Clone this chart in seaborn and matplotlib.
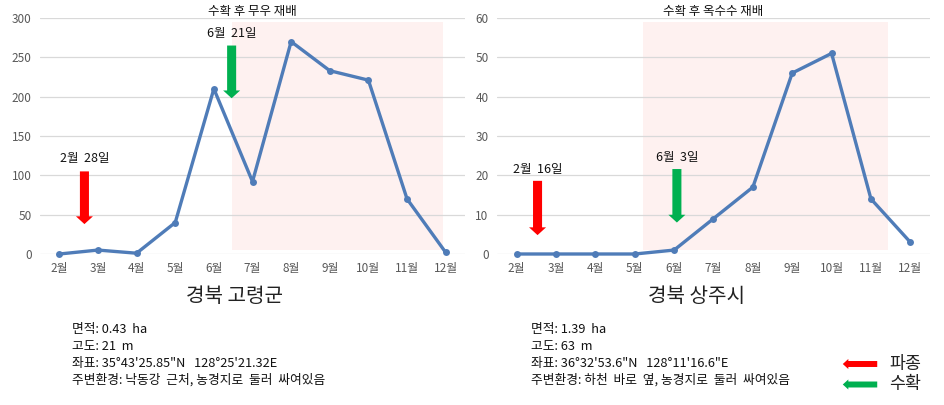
import matplotlib
matplotlib.use("Agg")
import matplotlib.pyplot as plt
from matplotlib.patches import FancyArrowPatch
import seaborn as sns
import pandas as pd

sns.set_theme(style="white")
plt.rcParams['font.family'] = ['Noto Sans CJK KR', 'DejaVu Sans']

months = ["2월", "3월", "4월", "5월", "6월", "7월", "8월", "9월", "10월", "11월", "12월"]
goryeong_values = [0, 5, 1, 40, 210, 92, 270, 233, 221, 70, 2]
sangju_values = [0, 0, 0, 0, 1, 9, 17, 46, 51, 14, 3]

left_title = "수확 후 무우 재배"
right_title = "수확 후 옥수수 재배"
left_region = "경북 고령군"
right_region = "경북 상주시"
left_info = ["면적: 0.43  ha", "고도: 21  m", "좌표: 35°43'25.85\"N   128°25'21.32E",
             "주변환경: 낙동강  근처, 농경지로  둘러  싸여있음"]
right_info = ["면적: 1.39  ha", "고도: 63  m", "좌표: 36°32'53.6\"N   128°11'16.6\"E",
              "주변환경: 하천  바로  옆, 농경지로  둘러  싸여있음"]
left_sow_label, left_harvest_label = "2월  28일", "6월  21일"
right_sow_label, right_harvest_label = "2월  16일", "6월  3일"
legend_labels = ["파종", "수확"]

LINE = "#4f7cb8"
RED = "#ff0000"
GREEN = "#00b050"
SHADE = "#fef1f0"
TICK = "#595959"
ARROWSTYLE = "simple,tail_width=0.93,head_width=1.75,head_length=0.8"
LEG_ARROWSTYLE = "simple,tail_width=0.86,head_width=1.45,head_length=0.8"

W, H = 944, 405
fig = plt.figure(figsize=(W / 100, H / 100), dpi=100)


def fx(px):
    return px / W


def fy(py):
    return 1 - py / H


def panel(ax, values, ymax, ystep, shade_x, title):
    df = pd.DataFrame({"month": months, "value": values})
    ax.axvspan(shade_x[0], shade_x[1], ymin=0.015, ymax=0.985,
               color=SHADE, zorder=0, lw=0)
    sns.lineplot(data=df, x="month", y="value", ax=ax, color=LINE, lw=2.4,
                 marker="o", markersize=5, markeredgewidth=0, sort=False, zorder=3,
                 clip_on=False)
    ax.set_xlim(-0.5, 10.5)
    ax.set_ylim(0, ymax)
    ax.set_yticks(range(0, ymax + 1, ystep))
    ax.grid(axis="y", color="#d9d9d9", lw=0.9)
    ax.set_axisbelow(True)
    for s in ax.spines.values():
        s.set_visible(False)
    ax.tick_params(axis="both", length=0, labelsize=8.5, labelcolor=TICK, pad=6)
    ax.set_xlabel("")
    ax.set_ylabel("")
    ax.set_title(title, fontsize=9, pad=2, color="#111111")


def arrow(ax, x, ytop, ytip, color, label, ty):
    ax.annotate("", xy=(x, ytip), xytext=(x, ytop),
                arrowprops=dict(arrowstyle=ARROWSTYLE, color=color, shrinkA=0, shrinkB=0,
                                mutation_scale=7, lw=0),
                zorder=4)
    ax.text(x, ty, label, ha="center", va="bottom", fontsize=9, color="#111111", zorder=5)


ax1 = fig.add_axes([fx(40), fy(254), fx(465 - 40), (254 - 18) / H])
panel(ax1, goryeong_values, 300, 50, (4.46, 9.92), left_title)
arrow(ax1, 0.65, 105, 38, RED, left_sow_label, 113)
arrow(ax1, 4.46, 265, 198, GREEN, left_harvest_label, 272)

ax2 = fig.add_axes([fx(497), fy(254), fx(930 - 497), (254 - 18) / H])
panel(ax2, sangju_values, 60, 10, (3.2, 9.44), right_title)
arrow(ax2, 0.53, 18.6, 4.8, RED, right_sow_label, 19.9)
arrow(ax2, 4.07, 21.6, 8.0, GREEN, right_harvest_label, 23.0)

fig.text(fx(235), fy(296), left_region, ha="center", va="center", fontsize=14.5, color="#222222")
fig.text(fx(697), fy(296), right_region, ha="center", va="center", fontsize=14.5, color="#222222")

for i, line in enumerate(left_info):
    fig.text(fx(72), fy(330 + 16.5 * i), line, ha="left", va="center", fontsize=9.2, color="#111111")
for i, line in enumerate(right_info):
    fig.text(fx(531), fy(330 + 16.5 * i), line, ha="left", va="center", fontsize=9.2, color="#111111")

for i, (lab, col) in enumerate(zip(legend_labels, [RED, GREEN])):
    yy = fy(364 + 20.5 * i)
    fig.patches.append(FancyArrowPatch(
        (fx(880), yy), (fx(840), yy), transform=fig.transFigure,
        arrowstyle=LEG_ARROWSTYLE, mutation_scale=5, color=col, lw=0))
    fig.text(fx(889), yy, lab, ha="left", va="center", fontsize=12.5, color="#222222")

fig.savefig("out.png", dpi=100)
